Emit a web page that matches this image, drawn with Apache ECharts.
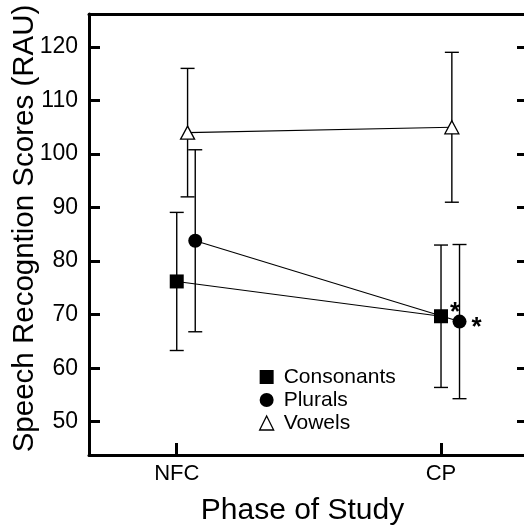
<!DOCTYPE html>
<html>
<head>
<meta charset="utf-8">
<script src="https://cdn.jsdelivr.net/npm/echarts@6/dist/echarts.min.js"></script>
<style>
  html, body { margin: 0; padding: 0; background: #fff; }
  #chart { width: 524px; height: 529px; }
</style>
</head>
<body>
<div id="chart"></div>
<script>
// Study phases (x positions 1 and 2 on a value axis)
const phases = ['NFC', 'CP'];
const phaseX = [1, 2];

// Mean scores (RAU) per phase
const consonants = [76.2, 69.7];
const plurals = [83.8, 68.7];
const vowels = [104.0, 105.0];

// Half-length of the error bars per phase
const consonantsErr = [12.9, 13.3];
const pluralsErr = [17.0, 14.4];
const vowelsErr = [12.0, 14.0];

// Significant change flags (asterisk) per phase
const consonantsSig = [false, true];
const pluralsSig = [false, true];

const yTicks = [50, 60, 70, 80, 90, 100, 110, 120];

// Horizontal dodge so the three groups don't overlap
const dodge = { Consonants: 0, Plurals: 0.07, Vowels: 0.041 };

const FONT = 'Liberation Sans, Arial, sans-serif';

function points(name, means) {
  return means.map((m, i) => [phaseX[i] + dodge[name], m]);
}

function bars(name, means, errs) {
  return means.map((m, i) => [phaseX[i] + dodge[name], m - errs[i], m + errs[i]]);
}

function withStars(name, means, sig, offset) {
  return points(name, means).map((p, i) => sig[i] ? {
    value: p,
    label: {
      show: true, formatter: '*', position: 'inside', offset: offset,
      color: '#000', fontSize: 26, fontWeight: 'bold', fontFamily: FONT
    }
  } : p);
}

function errorBarSeries(name, means, errs) {
  return {
    type: 'custom',
    name: name + ' error',
    z: 1,
    silent: true,
    data: bars(name, means, errs),
    encode: { x: 0, y: [1, 2] },
    renderItem: function (params, api) {
      const x = api.value(0);
      const lo = api.coord([x, api.value(1)]);
      const hi = api.coord([x, api.value(2)]);
      const cap = 7;
      const style = { stroke: '#000', lineWidth: 1.4, fill: null };
      return {
        type: 'group',
        children: [
          { type: 'line', shape: { x1: lo[0], y1: lo[1], x2: hi[0], y2: hi[1] }, style: style },
          { type: 'line', shape: { x1: lo[0] - cap, y1: lo[1], x2: lo[0] + cap, y2: lo[1] }, style: style },
          { type: 'line', shape: { x1: hi[0] - cap, y1: hi[1], x2: hi[0] + cap, y2: hi[1] }, style: style }
        ]
      };
    }
  };
}

const chart = echarts.init(document.getElementById('chart'), null, { renderer: 'canvas' });

const axisLine = { show: true, lineStyle: { color: '#000', width: 3 } };

chart.setOption({
  animation: false,
  backgroundColor: '#fff',
  grid: { left: 89, right: 0, top: 14, bottom: 74, containLabel: false, outerBoundsMode: 'none' },
  xAxis: [{
    type: 'value',
    min: 0.668, max: 2.314,
    position: 'bottom',
    axisLine: axisLine,
    splitLine: { show: false },
    axisTick: { show: true, inside: true, length: 12, lineStyle: { color: '#000', width: 3 }, customValues: phaseX },
    axisLabel: {
      show: true, customValues: phaseX, margin: 8,
      formatter: v => phases[phaseX.indexOf(v)] || '',
      color: '#000', fontSize: 22, fontFamily: FONT
    },
    name: 'Phase of Study',
    nameLocation: 'middle',
    nameGap: 41,
    nameMoveOverlap: false,
    nameTextStyle: { color: '#000', fontSize: 30, fontFamily: FONT, padding: [0, 8, 0, 0] }
  }, {
    type: 'value',
    min: 0.668, max: 2.314,
    position: 'top',
    axisLine: axisLine,
    axisTick: { show: false },
    axisLabel: { show: false },
    splitLine: { show: false }
  }],
  yAxis: [{
    type: 'value',
    min: 43.78, max: 126.16,
    position: 'left',
    axisLine: axisLine,
    splitLine: { show: false },
    axisTick: { show: true, inside: true, length: 11, lineStyle: { color: '#000', width: 3 }, customValues: yTicks },
    axisLabel: {
      show: true, customValues: yTicks, margin: 11,
      color: '#000', fontSize: 23, fontFamily: FONT
    },
    name: 'Speech Recogntion Scores (RAU)',
    nameLocation: 'middle',
    nameGap: 49,
    nameMoveOverlap: false,
    nameTextStyle: { color: '#000', fontSize: 29.5, fontFamily: FONT, padding: [0, 0, 0, 12] }
  }, {
    type: 'value',
    min: 43.78, max: 126.16,
    position: 'right',
    axisLine: { show: false },
    splitLine: { show: false },
    axisTick: { show: true, inside: true, length: 7, lineStyle: { color: '#000', width: 3 }, customValues: yTicks },
    axisLabel: { show: false }
  }],
  legend: {
    orient: 'vertical',
    left: 254, top: 361,
    itemWidth: 14, itemHeight: 14, itemGap: 1,
    textStyle: { color: '#000', fontSize: 21, fontFamily: FONT, lineHeight: 22, padding: [0, 0, 0, 5] },
    data: [
      { name: 'Consonants', icon: 'rect', itemStyle: { color: '#000', borderWidth: 0 } },
      { name: 'Plurals', icon: 'circle', itemStyle: { color: '#000', borderWidth: 0 } },
      { name: 'Vowels', icon: 'triangle', itemStyle: { color: '#fff', borderColor: '#000', borderWidth: 1.3 } }
    ]
  },
  series: [
    errorBarSeries('Consonants', consonants, consonantsErr),
    errorBarSeries('Plurals', plurals, pluralsErr),
    errorBarSeries('Vowels', vowels, vowelsErr),
    {
      type: 'line', name: 'Consonants', z: 3,
      data: withStars('Consonants', consonants, consonantsSig, [14, -3]),
      symbol: 'rect', symbolSize: 14,
      lineStyle: { color: '#000', width: 1.1 },
      itemStyle: { color: '#000', borderWidth: 0 }
    },
    {
      type: 'line', name: 'Plurals', z: 3,
      data: withStars('Plurals', plurals, pluralsSig, [17, 6]),
      symbol: 'circle', symbolSize: 14,
      lineStyle: { color: '#000', width: 1.1 },
      itemStyle: { color: '#000', borderWidth: 0 }
    },
    {
      type: 'line', name: 'Vowels', z: 3,
      data: points('Vowels', vowels),
      symbol: 'triangle', symbolSize: [14, 13],
      lineStyle: { color: '#000', width: 1.1 },
      itemStyle: { color: '#fff', borderColor: '#000', borderWidth: 1.3 }
    }
  ]
});
</script>
</body>
</html>
